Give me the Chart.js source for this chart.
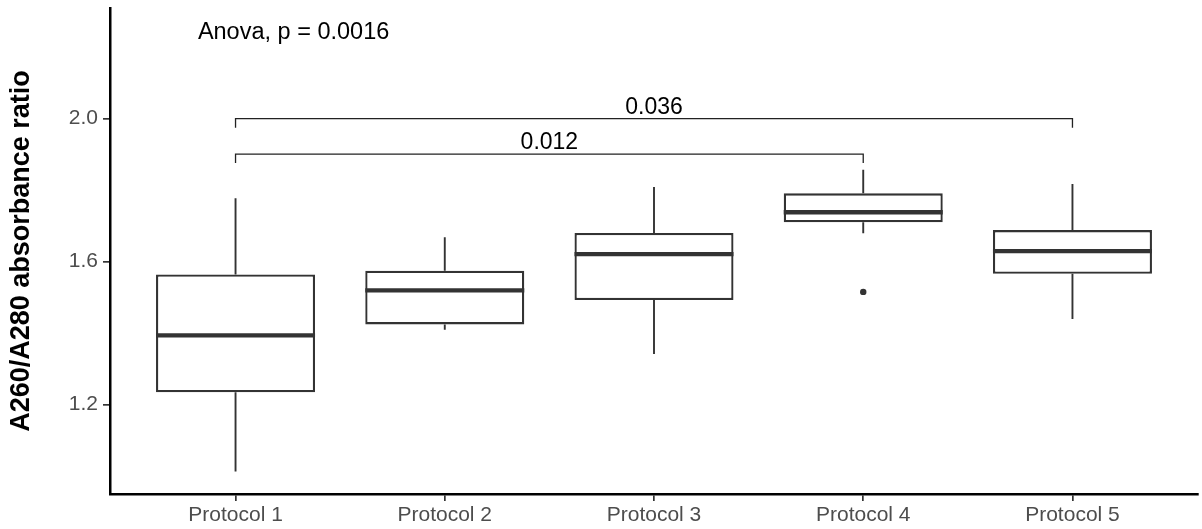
<!DOCTYPE html>
<html>
<head>
<meta charset="utf-8">
<script src="https://cdn.jsdelivr.net/npm/chart.js@4.4.1/dist/chart.umd.min.js"></script>
<style>
  html, body { margin: 0; padding: 0; background: #fff; }
  canvas { display: block; }
</style>
</head>
<body>
<canvas id="boxChart" width="1202" height="529"></canvas>
<script>
// data
const protocols = ["Protocol 1", "Protocol 2", "Protocol 3", "Protocol 4", "Protocol 5"];
const xPos = [1, 2, 3, 4, 5];
const whiskerLow = [1.012, 1.409, 1.341, 1.679, 1.439];
const q1 = [1.234, 1.424, 1.492, 1.710, 1.566];
const medians = [1.393, 1.519, 1.621, 1.738, 1.629];
const q3 = [1.564, 1.574, 1.680, 1.791, 1.688];
const whiskerHigh = [1.777, 1.668, 1.809, 1.857, 1.817];
const outliers = [{ x: 4, y: 1.515 }];
const yTicks = [1.2, 1.6, 2.0];

// pairwise comparisons (from, to, bracket height, p label)
const compFrom = [1, 1];
const compTo = [5, 4];
const compY = [2.0, 1.901];
const compLabel = ["0.036", "0.012"];
const anovaText = "Anova, p = 0.0016";
const anovaAt = { x: 0.82, y: 2.223 };

const FONT = "'Liberation Sans', Arial, Helvetica, sans-serif";
const BOX_COLOR = "#333333";

const boxParts = {
  id: "boxParts",
  beforeDatasetsDraw(chart) {
    const xs = chart.scales.x, ys = chart.scales.y, ctx = chart.ctx;
    ctx.save();
    ctx.strokeStyle = BOX_COLOR;
    ctx.lineWidth = 1.9;
    xPos.forEach((p, i) => {
      const px = xs.getPixelForValue(p);
      ctx.beginPath();
      ctx.moveTo(px, ys.getPixelForValue(whiskerHigh[i]));
      ctx.lineTo(px, ys.getPixelForValue(q3[i]));
      ctx.moveTo(px, ys.getPixelForValue(q1[i]));
      ctx.lineTo(px, ys.getPixelForValue(whiskerLow[i]));
      ctx.stroke();
    });
    ctx.restore();
  },
  afterDatasetsDraw(chart) {
    const ys = chart.scales.y, ctx = chart.ctx;
    const meta = chart.getDatasetMeta(0);
    ctx.save();
    ctx.strokeStyle = BOX_COLOR;
    ctx.lineWidth = 4.3;
    ctx.lineCap = "butt";
    meta.data.forEach((bar, i) => {
      const { x, width } = bar.getProps(["x", "width"], true);
      const py = ys.getPixelForValue(medians[i]);
      ctx.beginPath();
      ctx.moveTo(x - width / 2, py);
      ctx.lineTo(x + width / 2, py);
      ctx.stroke();
    });
    ctx.restore();
  },
  afterDraw(chart) {
    const xs = chart.scales.x, ys = chart.scales.y, ctx = chart.ctx;
    ctx.save();
    ctx.strokeStyle = "#222222";
    ctx.lineWidth = 1.3;
    ctx.fillStyle = "#000000";
    ctx.font = "23px " + FONT;
    ctx.textAlign = "center";
    ctx.textBaseline = "alphabetic";
    compFrom.forEach((f, i) => {
      const x1 = xs.getPixelForValue(f);
      const x2 = xs.getPixelForValue(compTo[i]);
      const py = ys.getPixelForValue(compY[i]);
      ctx.beginPath();
      ctx.moveTo(x1, py + 9);
      ctx.lineTo(x1, py);
      ctx.lineTo(x2, py);
      ctx.lineTo(x2, py + 9);
      ctx.stroke();
      ctx.fillText(compLabel[i], (x1 + x2) / 2, py - 5);
    });
    ctx.font = "23.5px " + FONT;
    ctx.textAlign = "left";
    ctx.fillText(anovaText, xs.getPixelForValue(anovaAt.x), ys.getPixelForValue(anovaAt.y));
    ctx.restore();
  }
};

const ctx = document.getElementById("boxChart").getContext("2d");

new Chart(ctx, {
  type: "bar",
  data: {
    datasets: [
      {
        type: "bar",
        data: xPos.map((p, i) => ({ x: p, y: [q1[i], q3[i]] })),
        backgroundColor: "#ffffff",
        borderColor: BOX_COLOR,
        borderWidth: 2.3,
        borderSkipped: false,
        barPercentage: 0.76,
        categoryPercentage: 1
      },
      {
        type: "scatter",
        data: outliers,
        backgroundColor: BOX_COLOR,
        borderColor: BOX_COLOR,
        pointRadius: 3.2,
        borderWidth: 0
      }
    ]
  },
  options: {
    responsive: false,
    animation: false,
    devicePixelRatio: 1,
    layout: { padding: { top: 8, right: 2, left: 0, bottom: 0 } },
    plugins: {
      legend: { display: false },
      tooltip: { enabled: false }
    },
    scales: {
      x: {
        type: "linear",
        min: 0.4,
        max: 5.6,
        offset: false,
        afterBuildTicks: (scale) => { scale.ticks = xPos.map(v => ({ value: v })); },
        afterFit: (scale) => {
          scale.height = 35;
          scale.paddingLeft = 0;
          scale.paddingRight = 0;
        },
        grid: {
          display: true,
          offset: false,
          drawOnChartArea: false,
          drawTicks: true,
          tickLength: 7,
          color: BOX_COLOR,
          lineWidth: 1.7
        },
        border: { display: true, color: "#000000", width: 2.5 },
        ticks: {
          autoSkip: false,
          maxRotation: 0,
          padding: 2,
          color: "#4d4d4d",
          font: { family: FONT, size: 21 },
          callback: (v) => protocols[v - 1]
        }
      },
      y: {
        min: 0.949,
        max: 2.31,
        afterBuildTicks: (scale) => { scale.ticks = yTicks.map(v => ({ value: v })); },
        afterFit: (scale) => {
          scale.width = 110;
          scale.paddingTop = 0;
          scale.paddingBottom = 0;
        },
        grid: {
          display: true,
          drawOnChartArea: false,
          drawTicks: true,
          tickLength: 7,
          color: BOX_COLOR,
          lineWidth: 1.7
        },
        border: { display: true, color: "#000000", width: 2.5 },
        ticks: {
          padding: 5,
          color: "#4d4d4d",
          font: { family: FONT, size: 21 },
          callback: (v) => v.toFixed(1)
        },
        title: {
          display: true,
          text: "A260/A280 absorbance ratio",
          color: "#000000",
          font: { family: FONT, size: 27, weight: "bold" },
          padding: { top: 5, bottom: 0 }
        }
      }
    }
  },
  plugins: [boxParts]
});
</script>
</body>
</html>
